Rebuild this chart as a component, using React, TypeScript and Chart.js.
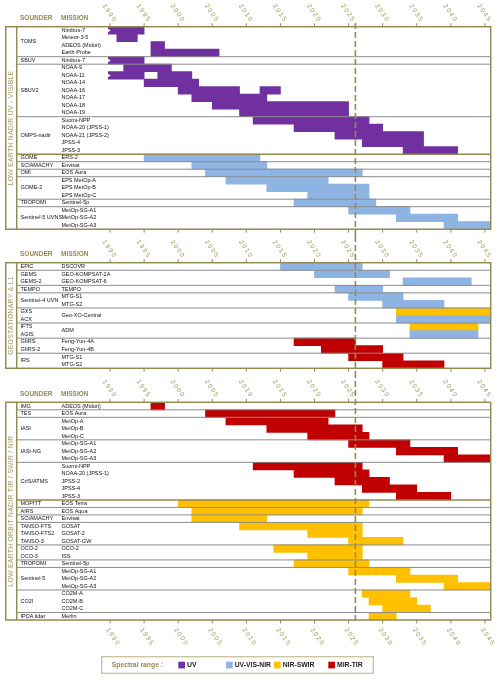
import React, { useEffect, useRef } from 'react';
import { Chart, registerables } from 'chart.js';

Chart.register(...registerables);

// ---------------- axis ----------------
const YEAR_TICKS = [1990, 1995, 2000, 2005, 2010, 2015, 2020, 2025, 2030, 2035, 2040, 2045];
const YEAR_MIN = 1989.7;
const YEAR_MAX = 2045.85;
const CURRENT_YEAR = 2026;

const COLUMN_HEADERS = ['SOUNDER', 'MISSION'];
const LEGEND_TITLE = 'Spectral range :';
const SPECTRAL_RANGES = ['UV', 'UV-VIS-NIR', 'NIR-SWIR', 'MIR-TIR'];
const SPECTRAL_COLORS = ['#7030A0', '#8DB4E2', '#FFC000', '#C00000'];

type Group = [string[], string[]]; // [sounders, missions]
type Bar = [string, string, number, number]; // sounder, mission, start year, end year

// ---------------- panel 1 : LEO UV - visible ----------------
const LEO_UV_TITLE = 'LOW EARTH NADIR UV - VISIBLE';
const LEO_UV_GROUPS: Group[] = [
  [['TOMS'], ['Nimbus-7', 'Meteor-3-5', 'ADEOS (Midori)', 'Earth Probe']],
  [['SBUV'], ['Nimbus-7']],
  [['SBUV2'], ['NOAA-9', 'NOAA-11', 'NOAA-14', 'NOAA-16', 'NOAA-17', 'NOAA-18', 'NOAA-19']],
  [['OMPS-nadir'], ['Suomi-NPP', 'NOAA-20 (JPSS-1)', 'NOAA-21 (JPSS-2)', 'JPSS-4', 'JPSS-3']],
  [['GOME'], ['ERS-2']],
  [['SCIAMACHY'], ['Envisat']],
  [['OMI'], ['EOS Aura']],
  [['GOME-2'], ['EPS MetOp-A', 'EPS MetOp-B', 'EPS MetOp-C']],
  [['TROPOMI'], ['Sentinel-5p']],
  [['Sentinel-5 UVNS'], ['MetOp-SG-A1', 'MetOp-SG-A2', 'MetOp-SG-A3']],
];
const LEO_UV_SECTION = 'GOME';
const LEO_UV_UV: Bar[] = [
  ['TOMS', 'Nimbus-7', 1978, 1995],
  ['TOMS', 'Meteor-3-5', 1991, 1994],
  ['TOMS', 'ADEOS (Midori)', 1996, 1998],
  ['TOMS', 'Earth Probe', 1996, 2006],
  ['SBUV', 'Nimbus-7', 1978, 1995],
  ['SBUV2', 'NOAA-9', 1992, 1999],
  ['SBUV2', 'NOAA-11', 1988, 1995],
  ['SBUV2', 'NOAA-11', 1997, 2002],
  ['SBUV2', 'NOAA-14', 1995, 2003],
  ['SBUV2', 'NOAA-16', 2000, 2009],
  ['SBUV2', 'NOAA-16', 2012, 2015],
  ['SBUV2', 'NOAA-17', 2002, 2013],
  ['SBUV2', 'NOAA-18', 2005, 2025],
  ['SBUV2', 'NOAA-19', 2009, 2025],
  ['OMPS-nadir', 'Suomi-NPP', 2011, 2028],
  ['OMPS-nadir', 'NOAA-20 (JPSS-1)', 2017, 2030],
  ['OMPS-nadir', 'NOAA-21 (JPSS-2)', 2023, 2036],
  ['OMPS-nadir', 'JPSS-4', 2027, 2036],
  ['OMPS-nadir', 'JPSS-3', 2033, 2041],
];
const LEO_UV_UVVISNIR: Bar[] = [
  ['GOME', 'ERS-2', 1995, 2012],
  ['SCIAMACHY', 'Envisat', 2002, 2013],
  ['OMI', 'EOS Aura', 2004, 2027],
  ['GOME-2', 'EPS MetOp-A', 2007, 2022],
  ['GOME-2', 'EPS MetOp-B', 2013, 2028],
  ['GOME-2', 'EPS MetOp-C', 2019, 2028],
  ['TROPOMI', 'Sentinel-5p', 2017, 2029],
  ['Sentinel-5 UVNS', 'MetOp-SG-A1', 2025, 2034],
  ['Sentinel-5 UVNS', 'MetOp-SG-A2', 2032, 2041],
  ['Sentinel-5 UVNS', 'MetOp-SG-A3', 2039, 2046],
];

// ---------------- panel 2 : geostationary & L1 ----------------
const GEO_TITLE = 'GEOSTATIONARY & L1';
const GEO_GROUPS: Group[] = [
  [['EPIC'], ['DSCOVR']],
  [['GEMS', 'GEMS-2'], ['GEO-KOMPSAT-2A', 'GEO-KOMPSAT-6']],
  [['TEMPO'], ['TEMPO']],
  [['Sentinel-4 UVN'], ['MTG-S1', 'MTG-S2']],
  [['GXS', 'ACX'], ['Geo-XO-Central']],
  [['IFTS', 'AGIS'], ['ADM']],
  [['GIIRS', 'GIIRS-2'], ['Feng-Yun-4A', 'Feng-Yun-4B']],
  [['IRS'], ['MTG-S1', 'MTG-S2']],
];
const GEO_UVVISNIR: Bar[] = [
  ['EPIC', 'DSCOVR', 2015, 2027],
  ['GEMS', 'GEO-KOMPSAT-2A', 2020, 2031],
  ['GEMS-2', 'GEO-KOMPSAT-6', 2033, 2043],
  ['TEMPO', 'TEMPO', 2023, 2030],
  ['Sentinel-4 UVN', 'MTG-S1', 2025, 2033],
  ['Sentinel-4 UVN', 'MTG-S2', 2030, 2039],
  ['ACX', 'Geo-XO-Central', 2032, 2046],
  ['AGIS', 'ADM', 2034, 2044],
];
const GEO_NIRSWIR: Bar[] = [
  ['GXS', 'Geo-XO-Central', 2032, 2046],
  ['IFTS', 'ADM', 2034, 2044],
];
const GEO_MIRTIR: Bar[] = [
  ['GIIRS', 'Feng-Yun-4A', 2017, 2026],
  ['GIIRS-2', 'Feng-Yun-4B', 2021, 2030],
  ['IRS', 'MTG-S1', 2025, 2033],
  ['IRS', 'MTG-S2', 2030, 2039],
];

// ---------------- panel 3 : LEO TIR / SWIR / NIR ----------------
const LEO_IR_TITLE = 'LOW EARTH ORBIT NADIR TIR / SWIR / NIR';
const LEO_IR_GROUPS: Group[] = [
  [['IMG'], ['ADEOS (Midori)']],
  [['TES'], ['EOS Aura']],
  [['IASI'], ['MetOp-A', 'MetOp-B', 'MetOp-C']],
  [['IASI-NG'], ['MetOp-SG-A1', 'MetOp-SG-A2', 'MetOp-SG-A3']],
  [['CrIS/ATMS'], ['Suomi-NPP', 'NOAA-20 (JPSS-1)', 'JPSS-2', 'JPSS-4', 'JPSS-3']],
  [['MOPITT'], ['EOS Terra']],
  [['AIRS'], ['EOS Aqua']],
  [['SCIAMACHY'], ['Envisat']],
  [['TANSO-FTS', 'TANSO-FTS2', 'TANSO-3'], ['GOSAT', 'GOSAT-2', 'GOSAT-GW']],
  [['OCO-2', 'OCO-3'], ['OCO-2', 'ISS']],
  [['TROPOMI'], ['Sentinel-5p']],
  [['Sentinel-5'], ['MetOp-SG-A1', 'MetOp-SG-A2', 'MetOp-SG-A3']],
  [['CO2I'], ['CO2M-A', 'CO2M-B', 'CO2M-C']],
  [['IPDA lidar'], ['Merlin']],
];
const LEO_IR_SECTION = 'MOPITT';
const LEO_IR_MIRTIR: Bar[] = [
  ['IMG', 'ADEOS (Midori)', 1996, 1998],
  ['TES', 'EOS Aura', 2004, 2023],
  ['IASI', 'MetOp-A', 2007, 2022],
  ['IASI', 'MetOp-B', 2013, 2027],
  ['IASI', 'MetOp-C', 2019, 2028],
  ['IASI-NG', 'MetOp-SG-A1', 2025, 2034],
  ['IASI-NG', 'MetOp-SG-A2', 2032, 2041],
  ['IASI-NG', 'MetOp-SG-A3', 2039, 2046],
  ['CrIS/ATMS', 'Suomi-NPP', 2011, 2027],
  ['CrIS/ATMS', 'NOAA-20 (JPSS-1)', 2017, 2028],
  ['CrIS/ATMS', 'JPSS-2', 2023, 2031],
  ['CrIS/ATMS', 'JPSS-4', 2027, 2035],
  ['CrIS/ATMS', 'JPSS-3', 2032, 2040],
];
const LEO_IR_NIRSWIR: Bar[] = [
  ['MOPITT', 'EOS Terra', 2000, 2028],
  ['AIRS', 'EOS Aqua', 2002, 2027],
  ['SCIAMACHY', 'Envisat', 2002, 2013],
  ['TANSO-FTS', 'GOSAT', 2009, 2027],
  ['TANSO-FTS2', 'GOSAT-2', 2019, 2027],
  ['TANSO-3', 'GOSAT-GW', 2025, 2033],
  ['OCO-2', 'OCO-2', 2014, 2027],
  ['OCO-3', 'ISS', 2019, 2027],
  ['TROPOMI', 'Sentinel-5p', 2017, 2028],
  ['Sentinel-5', 'MetOp-SG-A1', 2025, 2034],
  ['Sentinel-5', 'MetOp-SG-A2', 2032, 2041],
  ['Sentinel-5', 'MetOp-SG-A3', 2039, 2046],
  ['CO2I', 'CO2M-A', 2027, 2034],
  ['CO2I', 'CO2M-B', 2028, 2035],
  ['CO2I', 'CO2M-C', 2030, 2037],
  ['IPDA lidar', 'Merlin', 2028, 2032],
];

// ---------------- styling ----------------
const FONT = '"Liberation Sans", Arial, sans-serif';
const OLIVE = '#948A54';
const OLIVE_TEXT = '#A2975F';
const SEPARATOR = '#8C8C8C';
const FRAME_LEFT = 5.7;
const COLUMN_LEFT = 16.7;
const SOUNDER_X = 20.5;
const MISSION_X = 61.5;
const PLOT_LEFT = 108;
const PLOT_RIGHT = 490.7;
const LEGEND_SLOTS = [178.3, 226, 274, 328.3];

type Series = { range: number; bars: Bar[] };
type PanelProps = {
  title: string;
  groups: Group[];
  section?: string;
  series: Series[];
  top: number;
  height: number;
  areaTop: number;
  areaBottom: number;
  dashTop: number;
  dashBottom: number;
  bottomLabels?: boolean;
  legendTop?: number;
};

function Panel(p: PanelProps) {
  const ref = useRef<HTMLCanvasElement>(null);
  useEffect(() => {
    const canvas = ref.current;
    if (!canvas) return;
    const rows: string[] = [];
    const groupStarts: number[] = [];
    p.groups.forEach(([sounders, missions]) => {
      const n = Math.max(sounders.length, missions.length);
      groupStarts.push(rows.length);
      for (let i = 0; i < n; i++) {
        const s = sounders.length === 1 ? sounders[0] : sounders[i];
        const m = missions.length === 1 ? missions[0] : missions[i];
        rows.push(`${s} / ${m}`);
      }
    });

    const line = (ctx: CanvasRenderingContext2D, x1: number, y1: number, x2: number, y2: number) => {
      ctx.beginPath();
      ctx.moveTo(x1, y1);
      ctx.lineTo(x2, y2);
      ctx.stroke();
    };

    const decor = {
      id: 'panelDecor',
      afterDraw(chart: any) {
        const ctx: CanvasRenderingContext2D = chart.ctx;
        const a = chart.chartArea;
        const xs = chart.scales.x;
        const ys = chart.scales.y;
        const band = ys.getPixelForValue(1) - ys.getPixelForValue(0);
        const rowTop = (i: number) => ys.getPixelForValue(i) - band / 2;
        ctx.save();

        // torn edge for bars starting before the axis
        chart.data.datasets.forEach((ds: any, di: number) => {
          const meta = chart.getDatasetMeta(di);
          ds.data.forEach((d: any, j: number) => {
            if (d.x[0] < YEAR_MIN) {
              const el = meta.data[j];
              const h = el.height;
              ctx.fillStyle = '#ffffff';
              ctx.beginPath();
              ctx.moveTo(a.left - 1, el.y - h * 0.3);
              ctx.lineTo(a.left + 2.8, el.y);
              ctx.lineTo(a.left - 1, el.y + h * 0.3);
              ctx.closePath();
              ctx.fill();
            }
          });
        });

        // group separators
        groupStarts.forEach((start, gi) => {
          if (gi === 0) return;
          const y = rowTop(start);
          const isSection = p.section && p.groups[gi][0][0] === p.section;
          ctx.strokeStyle = isSection ? OLIVE : SEPARATOR;
          ctx.lineWidth = isSection ? 1.5 : 1;
          line(ctx, COLUMN_LEFT, y, a.right, y);
        });

        // frame
        ctx.strokeStyle = OLIVE;
        ctx.lineWidth = 1.5;
        ctx.strokeRect(FRAME_LEFT, a.top, a.right - FRAME_LEFT, a.bottom - a.top);
        line(ctx, COLUMN_LEFT, a.top, COLUMN_LEFT, a.bottom);

        // sounder / mission labels
        ctx.fillStyle = '#111111';
        ctx.font = `5.5px ${FONT}`;
        ctx.textBaseline = 'middle';
        ctx.textAlign = 'left';
        p.groups.forEach(([sounders, missions], gi) => {
          const start = groupStarts[gi];
          const n = Math.max(sounders.length, missions.length);
          const cy = (rowTop(start) + rowTop(start + n)) / 2;
          if (sounders.length === 1) ctx.fillText(sounders[0], SOUNDER_X, cy);
          else sounders.forEach((s, i) => ctx.fillText(s, SOUNDER_X, ys.getPixelForValue(start + i)));
          if (missions.length === 1) ctx.fillText(missions[0], MISSION_X, cy);
          else missions.forEach((m, i) => ctx.fillText(m, MISSION_X, ys.getPixelForValue(start + i)));
        });

        // vertical title
        ctx.save();
        ctx.translate((FRAME_LEFT + COLUMN_LEFT) / 2 + 0.3, (a.top + a.bottom) / 2);
        ctx.rotate(-Math.PI / 2);
        ctx.font = `6.8px ${FONT}`;
        (ctx as any).letterSpacing = '0.3px';
        ctx.fillStyle = OLIVE_TEXT;
        ctx.textAlign = 'center';
        ctx.fillText(p.title, 0, 0);
        ctx.restore();

        // column headers
        ctx.font = `bold 6.5px ${FONT}`;
        ctx.fillStyle = OLIVE;
        ctx.textAlign = 'left';
        ctx.fillText(COLUMN_HEADERS[0], 20, a.top - 8);
        ctx.fillText(COLUMN_HEADERS[1], 61, a.top - 8);

        // ticks
        ctx.strokeStyle = OLIVE;
        ctx.lineWidth = 1;
        YEAR_TICKS.forEach((v) => {
          const x = xs.getPixelForValue(v);
          line(ctx, x, a.top - 3.5, x, a.top);
          line(ctx, x, a.bottom, x, a.bottom + 3.5);
        });

        // tick labels
        const drawLabel = (v: number, cx: number, cy: number) => {
          ctx.save();
          ctx.translate(cx, cy);
          ctx.rotate((55 * Math.PI) / 180);
          ctx.font = `6.5px ${FONT}`;
          (ctx as any).letterSpacing = '1.5px';
          ctx.fillStyle = OLIVE_TEXT;
          ctx.textAlign = 'center';
          ctx.textBaseline = 'middle';
          ctx.fillText(String(v), 0, 0);
          ctx.restore();
        };
        YEAR_TICKS.forEach((v) => drawLabel(v, xs.getPixelForValue(v) - 0.5, a.top - 13.5));
        if (p.bottomLabels) YEAR_TICKS.forEach((v) => drawLabel(v, xs.getPixelForValue(v) + 3, a.bottom + 17));

        // current year
        const tx = xs.getPixelForValue(CURRENT_YEAR);
        ctx.setLineDash([6, 3]);
        ctx.lineWidth = 1.6;
        ctx.strokeStyle = OLIVE;
        line(ctx, tx, p.dashTop, tx, p.dashBottom);
        ctx.setLineDash([]);

        // legend
        if (p.legendTop !== undefined) {
          const lt = p.legendTop;
          const cy = lt + 8.3;
          ctx.strokeStyle = '#C4BD97';
          ctx.lineWidth = 1.2;
          ctx.strokeRect(101.7, lt, 271.6, 16.6);
          ctx.font = `bold 6.8px ${FONT}`;
          ctx.fillStyle = OLIVE;
          ctx.textAlign = 'left';
          ctx.textBaseline = 'middle';
          ctx.fillText(LEGEND_TITLE, 111.7, cy);
          SPECTRAL_RANGES.forEach((name, i) => {
            const sx = LEGEND_SLOTS[i];
            ctx.fillStyle = SPECTRAL_COLORS[i];
            ctx.fillRect(sx, cy - 3.3, 6.7, 6.7);
            ctx.fillStyle = '#222222';
            ctx.fillText(name, sx + 8.7, cy);
          });
        }
        ctx.restore();
      },
    };

    const chart = new Chart(canvas, {
      type: 'bar',
      data: {
        labels: rows,
        datasets: p.series.map((s) => ({
          label: SPECTRAL_RANGES[s.range],
          data: s.bars.map(([snd, mis, a, b]) => ({ y: `${snd} / ${mis}`, x: [a, b] })),
          backgroundColor: SPECTRAL_COLORS[s.range],
          borderWidth: 0,
          grouped: false,
          barPercentage: 1,
          categoryPercentage: 1,
          clip: 0,
        })) as any,
      },
      options: {
        indexAxis: 'y',
        animation: false,
        responsive: false,
        maintainAspectRatio: false,
        layout: {
          padding: {
            left: PLOT_LEFT,
            right: 500 - PLOT_RIGHT,
            top: p.areaTop,
            bottom: p.height - p.areaBottom,
          },
        },
        scales: {
          x: { type: 'linear', min: YEAR_MIN, max: YEAR_MAX, display: false },
          y: { type: 'category', display: false, offset: true },
        },
        plugins: { legend: { display: false }, tooltip: { enabled: false } },
      } as any,
      plugins: [decor as any],
    });
    return () => chart.destroy();
  }, []);
  return (
    <canvas
      ref={ref}
      width={500}
      height={p.height}
      style={{ position: 'absolute', left: 0, top: p.top, width: 500, height: p.height }}
    />
  );
}

export default function App() {
  return (
    <div
      style={{
        position: 'absolute',
        left: 0,
        top: 0,
        width: 500,
        height: 681,
        background: '#ffffff',
        overflow: 'hidden',
      }}
    >
      <Panel
        title={LEO_UV_TITLE}
        groups={LEO_UV_GROUPS}
        section={LEO_UV_SECTION}
        series={[
          { range: 0, bars: LEO_UV_UV },
          { range: 1, bars: LEO_UV_UVVISNIR },
        ]}
        top={0}
        height={236}
        areaTop={26.7}
        areaBottom={229.2}
        dashTop={23}
        dashBottom={236}
      />
      <Panel
        title={GEO_TITLE}
        groups={GEO_GROUPS}
        series={[
          { range: 1, bars: GEO_UVVISNIR },
          { range: 2, bars: GEO_NIRSWIR },
          { range: 3, bars: GEO_MIRTIR },
        ]}
        top={236}
        height={136}
        areaTop={26.7}
        areaBottom={132.3}
        dashTop={0}
        dashBottom={136}
      />
      <Panel
        title={LEO_IR_TITLE}
        groups={LEO_IR_GROUPS}
        section={LEO_IR_SECTION}
        series={[
          { range: 3, bars: LEO_IR_MIRTIR },
          { range: 2, bars: LEO_IR_NIRSWIR },
        ]}
        top={372}
        height={309}
        areaTop={30.3}
        areaBottom={248}
        dashTop={0}
        dashBottom={249.5}
        bottomLabels
        legendTop={284.7}
      />
    </div>
  );
}
